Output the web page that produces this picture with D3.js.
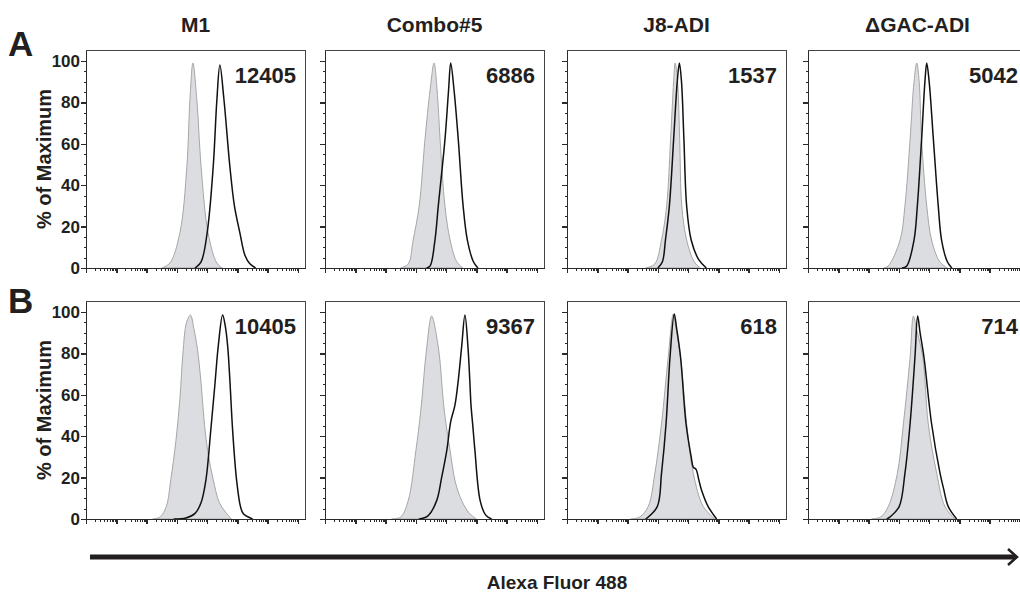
<!DOCTYPE html>
<html>
<head>
<meta charset="utf-8">
<style>
body { margin: 0; background: #fff; }
text { font-family: "Liberation Sans", Arial, sans-serif; font-weight: bold; fill: #231f20; }
.axis path,
.axis line {
    fill: none;
    stroke: #2b2b2b;
    shape-rendering: crispEdges;
}
</style>
<script src="https://d3js.org/d3.v7.min.js"></script>
</head>
<body>
<div id="chart"></div>
<script>
    // column titles, row letters and the MFI numbers
    var columns = ["M1", "Combo#5", "J8-ADI", "\u0394GAC-ADI"];
    var rowLetters = ["A", "B"];
    var mfiA = [12405, 6886, 1537, 5042];
    var mfiB = [10405, 9367, 618, 714];

    // y ticks (% of maximum) and x decades (log10)
    var yMajor = [0, 20, 40, 60, 80, 100];
    var xDecades = [0, 1, 2, 3, 4, 5, 6, 7];

    // histograms: [log10 intensity, % of max]
    // gray = control (filled), line = stained sample
    var grayA1 = [[2.5,0],[2.77,2.4],[3.1,17],[3.33,49],[3.43,81],[3.53,99],[3.66,81],[3.8,49],[4.03,17],[4.32,2.4],[4.5,0]];
    var lineA1 = [[3.6,0],[3.8,3],[4.0,17],[4.2,49],[4.32,81],[4.42,98],[4.55,82],[4.75,49],[4.9,30],[5.08,17],[5.25,6],[5.41,2],[5.6,0]];
    var grayA2 = [[2.5,0],[2.75,2],[2.91,13.5],[3.11,30],[3.3,62],[3.47,86],[3.6,99],[3.7,86],[3.8,62],[3.96,30],[4.13,13.5],[4.35,3],[4.55,0]];
    var lineA2 = [[3.35,0],[3.47,1],[3.63,13.5],[3.74,30],[3.96,62],[4.08,86],[4.15,99],[4.26,86],[4.4,62],[4.56,30],[4.7,13.5],[4.9,3],[5.05,0]];
    var grayA3 = [[2.6,0],[2.9,2],[3.12,13.5],[3.29,30],[3.42,62],[3.52,90],[3.57,99],[3.65,90],[3.72,62],[3.79,30],[3.95,13.5],[4.2,3],[4.4,0]];
    var lineA3 = [[3.0,0],[3.15,3],[3.25,13.5],[3.38,30],[3.52,62],[3.64,90],[3.71,99],[3.78,90],[3.86,62],[3.95,30],[4.1,13.5],[4.35,4],[4.6,0]];
    var grayA4 = [[2.5,0],[2.65,1],[3.04,13.5],[3.2,30],[3.37,62],[3.5,90],[3.59,99],[3.67,90],[3.75,62],[3.92,30],[4.08,13.5],[4.35,3],[4.6,0]];
    var lineA4 = [[3.1,0],[3.26,1],[3.5,13.5],[3.61,30],[3.75,62],[3.86,90],[3.92,99],[4.0,90],[4.14,62],[4.3,30],[4.41,13.5],[4.6,3],[4.75,0]];

    var grayB1 = [[2.2,0],[2.45,1],[2.65,6],[2.8,19],[2.97,38],[3.1,58],[3.2,80],[3.32,95],[3.45,98.5],[3.56,92],[3.68,82],[3.79,67],[3.93,43],[4.05,30],[4.2,19],[4.4,8],[4.64,2.7],[4.8,0]];
    var lineB1 = [[2.9,0],[3.3,0.5],[3.6,2.7],[3.8,8],[3.96,19],[4.12,43],[4.25,64],[4.37,84],[4.51,98.5],[4.6,93],[4.68,83],[4.75,67],[4.84,43],[4.97,19],[5.1,6],[5.19,2.7],[5.5,0]];
    var grayB2 = [[2.2,0],[2.5,1],[2.75,9],[3.0,33],[3.16,52],[3.36,83],[3.52,98],[3.74,83],[3.94,52],[4.13,33],[4.3,18],[4.51,9],[4.75,3],[5.0,0]];
    var lineB2 = [[3.1,0],[3.4,1.5],[3.69,9],[3.85,20],[4.02,33],[4.15,47],[4.29,55],[4.4,67],[4.51,83],[4.62,98.5],[4.72,83],[4.78,67],[4.82,55],[4.88,45],[4.95,33],[5.12,9],[5.3,2],[5.5,0]];
    var grayB3 = [[2.1,0],[2.4,1],[2.68,6],[2.9,22],[3.12,46],[3.34,78],[3.51,99],[3.6,92],[3.75,78],[3.95,46],[4.17,22],[4.5,6],[4.88,0]];
    var lineB3 = [[2.6,0],[2.98,6],[3.12,22],[3.27,46],[3.4,78],[3.54,99],[3.62,92],[3.75,78],[3.93,46],[4.1,30],[4.17,25],[4.26,24],[4.35,19],[4.44,14],[4.66,6],[4.94,0]];
    var grayB4 = [[2.1,0],[2.4,1],[2.65,6],[2.95,22],[3.15,46],[3.37,78],[3.48,98],[3.58,92],[3.79,78],[3.97,46],[4.25,22],[4.52,6],[4.85,0]];
    var lineB4 = [[2.6,0],[2.71,1],[3.01,6],[3.2,22],[3.37,46],[3.53,78],[3.62,98],[3.7,90],[3.83,78],[4.08,46],[4.36,22],[4.47,15],[4.63,6],[4.91,0]];

    var grayRows = [[grayA1, grayA2, grayA3, grayA4], [grayB1, grayB2, grayB3, grayB4]];
    var lineRows = [[lineA1, lineA2, lineA3, lineA4], [lineB1, lineB2, lineB3, lineB4]];
    var mfiRows = [mfiA, mfiB];

    // layout
    var colLeft = [86, 325, 567, 808],
        rowTop = [50, 301],
        pw = 219,
        ph = 218;

    var svg = d3.select("#chart")
        .append("svg")
        .attr("width", 1020)
        .attr("height", 594);

    svg.append("clipPath")
        .attr("id", "plotclip")
        .append("rect")
        .attr("width", pw)
        .attr("height", ph);

    var x = d3.scaleLog()
        .domain([1, Math.pow(10, 7.23)])
        .range([0, pw]);
    var y = d3.scaleLinear()
        .domain([0, 105.3])
        .range([ph, 0]);

    var xMinor = [];
    xDecades.forEach(function (e) {
        for (var k = 2; k < 10; k++) {
            if (e + Math.log10(k) <= 7.23) xMinor.push(k * Math.pow(10, e));
        }
    });
    var yMinor = d3.range(5, 101, 5).filter(function (v) { return v % 20 != 0; });

    var area = d3.area()
        .x(function (d) { return x(Math.pow(10, d[0])); })
        .y0(ph)
        .y1(function (d) { return y(d[1]); })
        .curve(d3.curveCatmullRom.alpha(0.5));
    var line = d3.line()
        .x(function (d) { return x(Math.pow(10, d[0])); })
        .y(function (d) { return y(d[1]); })
        .curve(d3.curveCatmullRom.alpha(0.5));

    rowTop.forEach(function (top, r) {
        colLeft.forEach(function (left, c) {
            var g = svg.append("g")
                .attr("transform", "translate(" + left + "," + top + ")");
            var plot = g.append("g").attr("clip-path", "url(#plotclip)");

            // control histogram (filled gray)
            plot.append("path")
                .datum(grayRows[r][c])
                .attr("d", area)
                .attr("fill", "#dcdde0")
                .attr("stroke", "#a6a6a6")
                .attr("stroke-width", 1);

            // stained histogram (black line)
            plot.append("path")
                .datum(lineRows[r][c])
                .attr("d", line)
                .attr("fill", "none")
                .attr("stroke", "#111")
                .attr("stroke-width", 1.5);

            // frame
            g.append("rect")
                .attr("width", pw)
                .attr("height", ph)
                .attr("fill", "none")
                .attr("stroke", "#444")
                .attr("stroke-width", 1)
                .attr("shape-rendering", "crispEdges");

            // y axis
            var ya = g.append("g")
                .attr("class", "axis")
                .call(d3.axisLeft(y).tickValues(yMajor).tickSize(5).tickSizeOuter(0).tickPadding(1)
                    .tickFormat(c == 0 ? d3.format("d") : ""));
            ya.selectAll("line").attr("stroke-width", 1.5);
            ya.selectAll("text")
                .style("font-family", "'Liberation Sans', Arial, sans-serif")
                .style("font-weight", "bold")
                .style("font-size", "17px")
                .attr("fill", "#231f20");
            g.append("g")
                .attr("class", "axis")
                .call(d3.axisLeft(y).tickValues(yMinor).tickSize(2.5).tickFormat(""))
                .select(".domain").remove();

            // x axis (log decades)
            var xa = g.append("g")
                .attr("class", "axis")
                .attr("transform", "translate(0," + ph + ")")
                .call(d3.axisBottom(x).tickValues(xDecades.map(function (e) { return Math.pow(10, e); }))
                    .tickSize(5).tickSizeOuter(0).tickFormat(""));
            xa.selectAll("line").attr("stroke-width", 1.5);
            g.append("g")
                .attr("class", "axis")
                .attr("transform", "translate(0," + ph + ")")
                .call(d3.axisBottom(x).tickValues(xMinor).tickSize(2.5).tickFormat(""))
                .select(".domain").remove();

            // MFI number
            g.append("text")
                .attr("x", pw - 9)
                .attr("y", 33)
                .style("text-anchor", "end")
                .style("font-size", "22px")
                .text(mfiRows[r][c]);
        });

        // row letter
        svg.append("text")
            .attr("x", 8)
            .attr("y", top + (r == 0 ? 6 : 12))
            .style("font-size", "35px")
            .text(rowLetters[r]);

        // y label
        svg.append("text")
            .attr("transform", "translate(51," + (top + ph / 2) + ") rotate(-90)")
            .style("text-anchor", "middle")
            .style("font-size", "20px")
            .text("% of Maximum");
    });

    // column titles
    columns.forEach(function (name, c) {
        svg.append("text")
            .attr("x", colLeft[c] + pw / 2)
            .attr("y", 32)
            .style("text-anchor", "middle")
            .style("font-size", "21px")
            .text(name);
    });

    // x axis arrow + label
    svg.append("line")
        .attr("x1", 90).attr("x2", 1015)
        .attr("y1", 557).attr("y2", 557)
        .attr("stroke", "#231f20")
        .attr("stroke-width", 5);
    svg.append("path")
        .attr("d", "M1008,549 L1017,557 L1008,565")
        .attr("fill", "none")
        .attr("stroke", "#231f20")
        .attr("stroke-width", 2.5);
    svg.append("text")
        .attr("x", 557)
        .attr("y", 589)
        .style("text-anchor", "middle")
        .style("font-size", "19px")
        .text("Alexa Fluor 488");
</script>
</body>
</html>
